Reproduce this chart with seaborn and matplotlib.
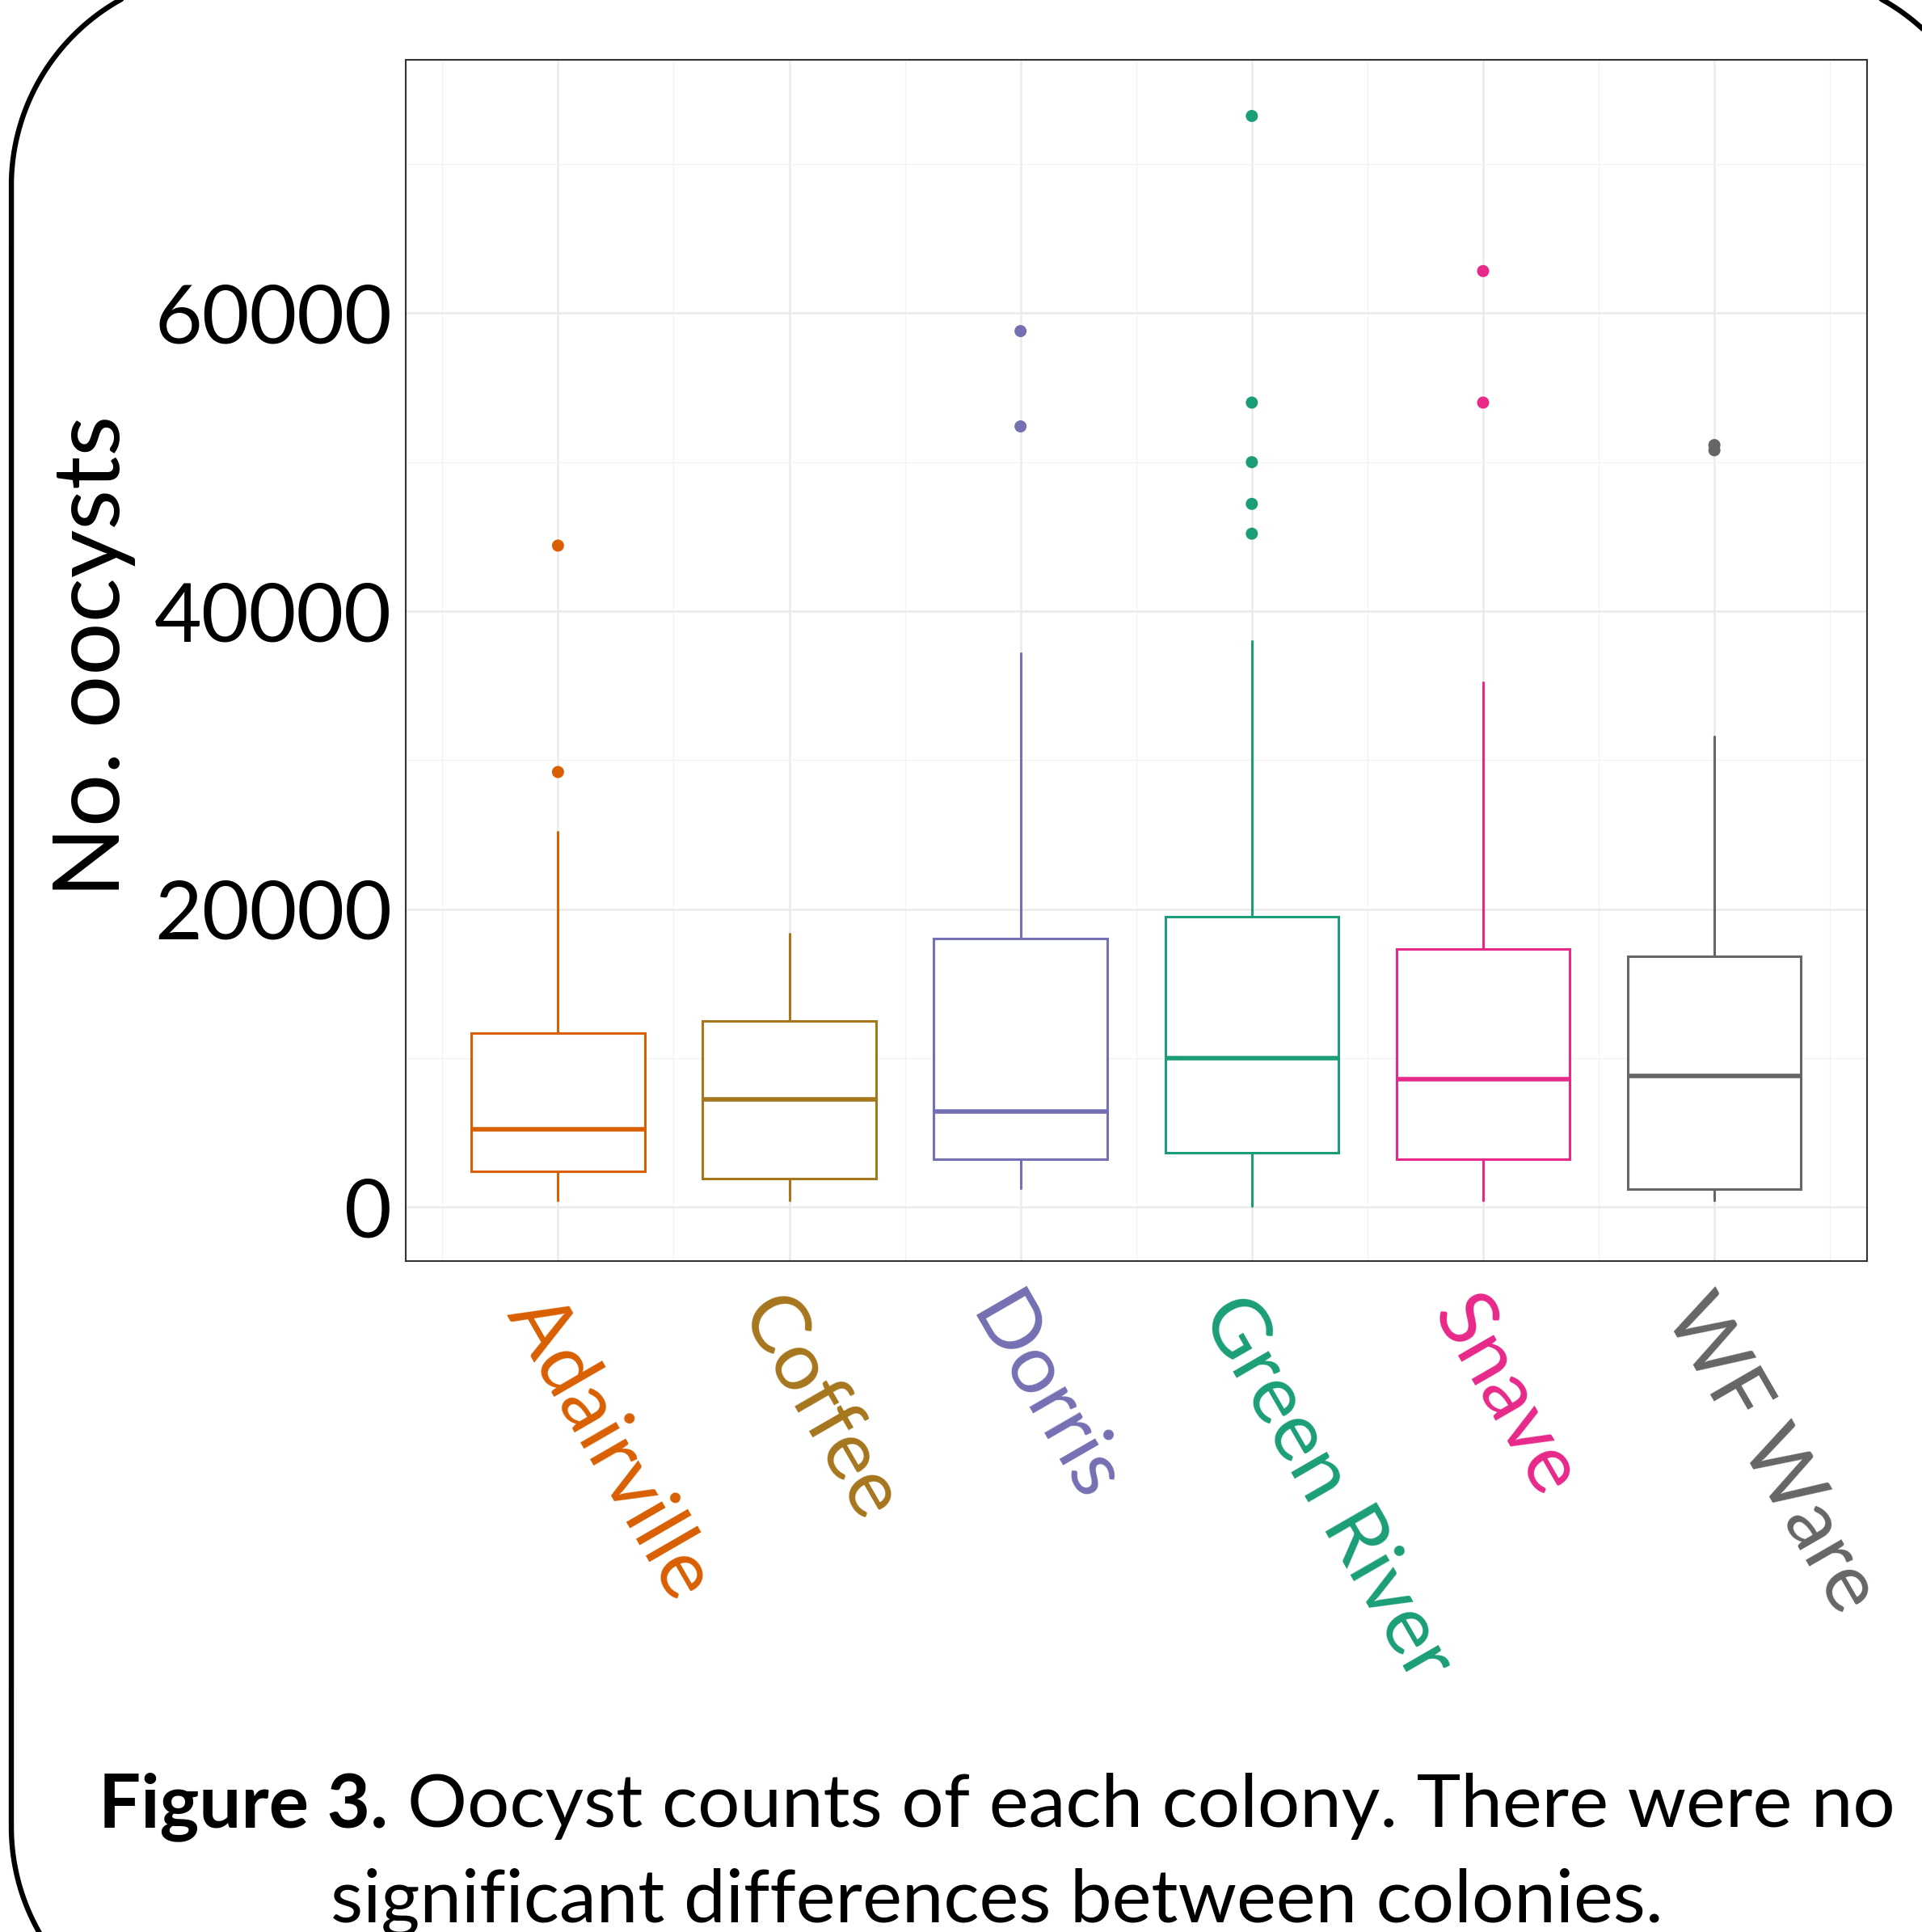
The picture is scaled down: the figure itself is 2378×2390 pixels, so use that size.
import numpy as np
import pandas as pd
import matplotlib.pyplot as plt
import seaborn as sns
from matplotlib.lines import Line2D

# colonies and box summary values
colonies = ['Adairville', 'Coffee', 'Dorris', 'Green River', 'Snave', 'WF Ware']
colors = ['#D95F02', '#A6761D', '#7570B3', '#1B9E77', '#E7298A', '#666666']

whisker_low = [420, 420, 1240, 50, 420, 420]
q1 = [2420, 1910, 3200, 3620, 3210, 1220]
median = [5200, 7220, 6400, 10000, 8590, 8820]
q3 = [11700, 12490, 18000, 19480, 17320, 16830]
whisker_high = [25170, 18350, 37200, 37990, 35220, 31590]

# outliers
outlier_colony = ['Adairville', 'Adairville', 'Dorris', 'Dorris',
                  'Green River', 'Green River', 'Green River', 'Green River', 'Green River',
                  'Snave', 'Snave', 'WF Ware', 'WF Ware']
outlier_count = [29200, 44400, 52400, 58800,
                 45200, 47200, 50000, 54000, 73240,
                 54000, 62830, 50800, 51150]

yticks = [0, 20000, 40000, 60000]
caption_bold = 'Figure 3.'
caption_line1 = 'Oocyst counts of each colony. There were no'
caption_line2 = 'significant differences between colonies.'

sns.set_style("white")
plt.rcParams['font.family'] = ['Lato', 'DejaVu Sans']
plt.rcParams['text.color'] = 'black'

W, H = 2378, 2390
fig = plt.figure(figsize=(W / 100, H / 100), dpi=100)
fig.patch.set_facecolor('white')

# rounded poster frame in pixels (partly outside the picture); drawn as a
# polyline because Agg clips bezier corners badly off-canvas
fx0, fx1, fy_top, fy_bot, rad = 14, 2464, -34, 2524, 264
t = np.linspace(0, np.pi / 2, 60)
corners = [
    (fx1 - rad, fy_top + rad, -np.pi / 2),   # top right
    (fx1 - rad, fy_bot - rad, 0.0),          # bottom right
    (fx0 + rad, fy_bot - rad, np.pi / 2),    # bottom left
    (fx0 + rad, fy_top + rad, np.pi),        # top left
]
px, py = [], []
for cx, cy, a0 in corners:
    px.extend(cx + rad * np.cos(a0 + t))
    py.extend(cy + rad * np.sin(a0 + t))
px.append(px[0])
py.append(py[0])
fig.add_artist(Line2D(px, H - np.array(py), lw=4.6, color='black', transform=None))

# plot panel
left, right, top, bottom = 501.5, 2310, 74, 1560
ax = fig.add_axes([left / W, 1 - bottom / H, (right - left) / W, (bottom - top) / H])

stats = [dict(med=m, q1=a, q3=b, whislo=lo, whishi=hi, fliers=[])
         for lo, a, m, b, hi in zip(whisker_low, q1, median, q3, whisker_high)]
bp = ax.bxp(stats, positions=range(len(colonies)), widths=0.75, patch_artist=True,
            showcaps=False, showfliers=False, manage_ticks=False,
            boxprops=dict(facecolor='white', linewidth=2.2),
            whiskerprops=dict(linewidth=2.2),
            medianprops=dict(linewidth=4.0, solid_capstyle='butt'))
for i, c in enumerate(colors):
    bp['boxes'][i].set_edgecolor(c)
    bp['whiskers'][2 * i].set_color(c)
    bp['whiskers'][2 * i + 1].set_color(c)
    bp['medians'][i].set_color(c)

out_df = pd.DataFrame({'colony': outlier_colony, 'count': outlier_count})
sns.stripplot(data=out_df, x='colony', y='count', hue='colony', order=colonies,
              hue_order=colonies, palette=colors, jitter=False, size=10.8,
              linewidth=0, legend=False, ax=ax, zorder=3)

ax.set_xlim(-0.66, 5.66)
ax.set_ylim(-3630, 77010)
ax.set_xlabel('')
ax.set_ylabel('')

ax.set_yticks(yticks)
ax.set_yticklabels([str(v) for v in yticks], fontsize=73, color='black')
ax.set_yticks([10000, 30000, 50000, 70000], minor=True)
ax.set_xticks(range(len(colonies)))
ax.set_xticks(np.arange(-0.5, 6, 1), minor=True)
ax.set_xticklabels(colonies, rotation=-60, ha='left', va='top',
                   rotation_mode='anchor', fontsize=73)
for lab, c in zip(ax.get_xticklabels(), colors):
    lab.set_color(c)

ax.grid(which='major', color='#EBEBEB', lw=1.8)
ax.grid(which='minor', color='#F2F2F2', lw=0.9)
ax.set_axisbelow(True)
ax.tick_params(which='minor', length=0)
ax.tick_params(which='major', length=8, width=1.5, color='#333333', pad=4)
ax.tick_params(axis='x', which='major', pad=13)
for s in ax.spines.values():
    s.set_visible(True)
    s.set_color('#333333')
    s.set_linewidth(1.5)

fig.text(116 / W, 1 - 812 / H, 'No. oocysts', rotation=90, fontsize=83,
         ha='center', va='center')

# caption, bold lead-in plus regular text, centred as one line
fs = 66.5
renderer = fig.canvas.get_renderer()
tb = fig.text(0, 1 - 2260 / H, caption_bold, fontsize=fs, fontweight='bold', va='baseline')
tr = fig.text(0, 1 - 2260 / H, caption_line1, fontsize=fs, va='baseline')
w1 = tb.get_window_extent(renderer).width
w2 = tr.get_window_extent(renderer).width
gap = 0.26 * fs / 0.72
x0 = 1233 - (w1 + gap + w2) / 2
tb.set_x(x0 / W)
tr.set_x((x0 + w1 + gap) / W)
fig.text(1233 / W, 1 - 2378 / H, caption_line2, fontsize=fs, ha='center', va='baseline')

fig.savefig('out.png', dpi=100)
